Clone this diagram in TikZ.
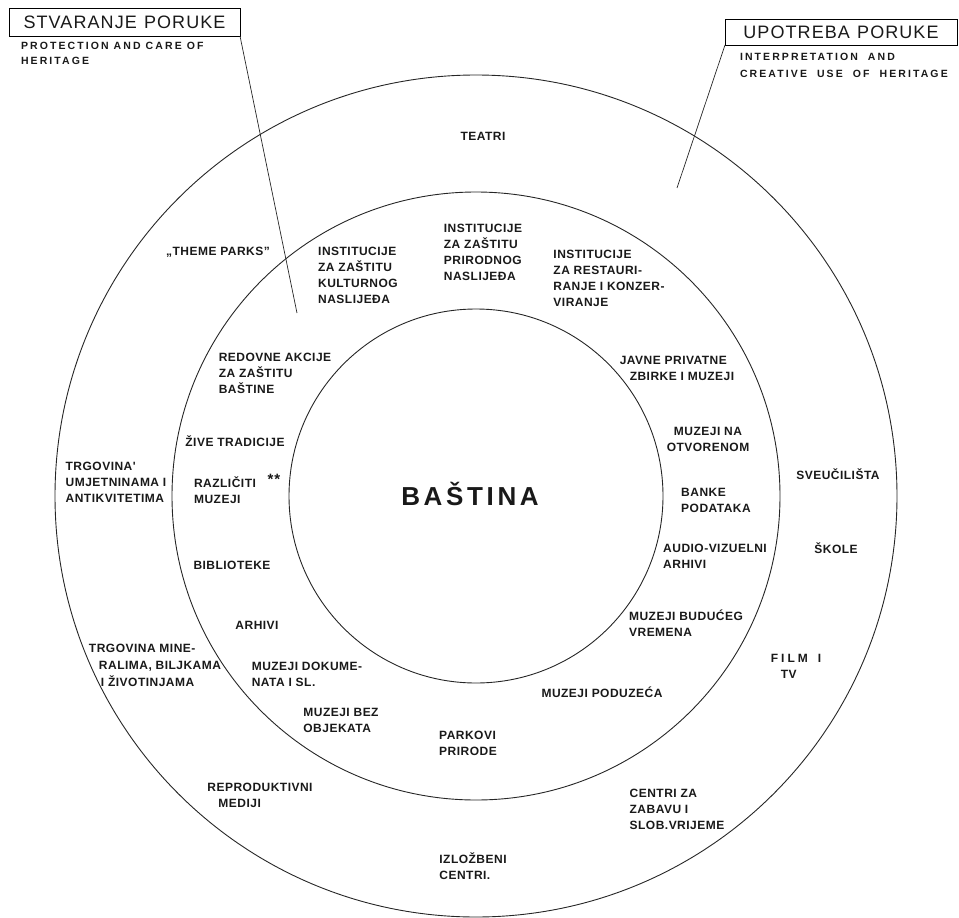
\documentclass[tikz,border=0pt]{standalone}
\usepackage{fontspec}
\setmainfont{Liberation Sans}
\newfontfamily\itemfont{Liberation Sans}[LetterSpace=4]
\newfontfamily\subfont{Liberation Sans}[LetterSpace=20]
\newfontfamily\titlefont{Liberation Sans}[LetterSpace=6]
\newfontfamily\bigfont{Liberation Sans}[LetterSpace=14]
\begin{document}
\begin{tikzpicture}[x=1pt,y=1pt,
  lbl/.style={inner sep=0pt, outer sep=0pt, text=black!90,
    font={\itemfont\bfseries\fontsize{12}{16}\selectfont}},
  lft/.style={lbl, align=left},
  ctr/.style={lbl, align=center},
  ring/.style={line width=0.9pt, draw=black!85},
  titlebox/.style={draw, line width=0.8pt, inner sep=0pt, outer sep=0pt, text=black!90,
    font={\titlefont\fontsize{18}{20}\selectfont}},
  subtitle/.style={inner sep=0pt, outer sep=0pt, align=left, text=black!90,
    font={\subfont\bfseries\fontsize{10.5}{15}\selectfont}},
  leader/.style={line width=0.7pt, draw=black!85}
]
\useasboundingbox (0,0) rectangle (959,-918);

% rings
\coordinate (c) at (476,-496);
\draw[ring] (c) circle (187pt);
\draw[ring] (c) circle (304pt);
\draw[ring] (c) circle (421pt);

% titles
\node[titlebox, minimum width=231pt, minimum height=28pt] (lbox) at (124.5,-22) {STVARANJE\hspace{0.4em}PORUKE};
\node[subtitle, anchor=north west] (lsub) at (21,-42) {PROTECTION AND CARE OF\\HERITAGE};
\node[titlebox, minimum width=232pt, minimum height=26pt] (rbox) at (841,-32) {UPOTREBA\hspace{0.4em}PORUKE};
\node[subtitle, anchor=north west, font={\subfont\bfseries\fontsize{10.5}{17}\selectfont}] (rsub) at (740,-53) {INTERPRETATION\ \ AND\\CREATIVE\ \ USE\ \ OF\ \ HERITAGE};

\coordinate (lend) at (297,-313);
\coordinate (rend) at (677,-188);
\draw[leader] (lbox.south east) -- (lend);
\draw[leader] (rbox.south west) -- (rend);

% centre
\node[lbl, font={\bigfont\bfseries\fontsize{26}{30}\selectfont}] (bastina) at (470,-494) {BAŠTINA};

% middle ring
\node[lft] (instk) at (358,-275) {INSTITUCIJE\\ZA ZAŠTITU\\KULTURNOG\\NASLIJEĐA};
\node[lft] (instp) at (483,-252) {INSTITUCIJE\\ZA ZAŠTITU\\PRIRODNOG\\NASLIJEĐA};
\node[lft] (instr) at (609,-278) {INSTITUCIJE\\ZA RESTAURI-\\RANJE I KONZER-\\VIRANJE};
\node[lft] (javne) at (677,-368) {JAVNE PRIVATNE\\\hspace*{10pt}ZBIRKE I MUZEJI};
\node[ctr] (muzotv) at (708,-439) {MUZEJI NA\\OTVORENOM};
\node[lft] (banke) at (716,-500) {BANKE\\PODATAKA};
\node[lft] (audio) at (715,-556) {AUDIO-VIZUELNI\\ARHIVI};
\node[lft] (buduc) at (686,-623) {MUZEJI BUDUĆEG\\VREMENA};
\node[lbl] (podu) at (602,-692) {MUZEJI PODUZEĆA};
\node[lft] (parkovi) at (468,-743) {PARKOVI\\PRIRODE};
\node[lft] (bez) at (341,-720) {MUZEJI BEZ\\OBJEKATA};
\node[lft] (dokum) at (307,-674) {MUZEJI DOKUME-\\NATA I SL.};
\node[lbl] (arhivi) at (257,-625) {ARHIVI};
\node[lbl] (biblio) at (232,-565) {BIBLIOTEKE};
\node[lft] (razl) at (225,-490) {RAZLIČITI\\MUZEJI};
\node[lbl, font={\bfseries\fontsize{15}{16}\selectfont}] (ast) at (274,-479) {*\hspace{1pt}*};
\node[lbl] (zive) at (235,-441) {ŽIVE TRADICIJE};
\node[lft] (redov) at (275,-373) {REDOVNE AKCIJE\\ZA ZAŠTITU\\BAŠTINE};

% outer ring
\node[lbl] (teatri) at (483,-136) {TEATRI};
\node[lbl] (theme) at (218,-252) {„THEME PARKS”};
\node[lbl] (sveuc) at (838,-474) {SVEUČILIŠTA};
\node[lbl] (skole) at (836,-548) {ŠKOLE};
\node[lft] (film) at (796,-666) {F\hspace{3pt}I\hspace{3pt}L\hspace{3pt}M\hspace{10pt}I\\\hspace*{10pt}TV};
\node[lft] (centri) at (677,-809) {CENTRI ZA\\ZABAVU I\\SLOB.VRIJEME};
\node[lft] (izloz) at (473,-866) {IZLOŽBENI\\CENTRI.};
\node[lft] (repro) at (260,-795) {REPRODUKTIVNI\\\hspace*{11pt}MEDIJI};
\node[lft, font={\itemfont\bfseries\fontsize{12}{17}\selectfont}] (trgmin) at (155,-665) {TRGOVINA MINE-\\\hspace*{10pt}RALIMA, BILJKAMA\\\hspace*{12pt}I ŽIVOTINJAMA};
\node[lft] (trgumj) at (116,-482) {TRGOVINA'\\UMJETNINAMA I\\ANTIKVITETIMA};
\end{tikzpicture}
\end{document}
